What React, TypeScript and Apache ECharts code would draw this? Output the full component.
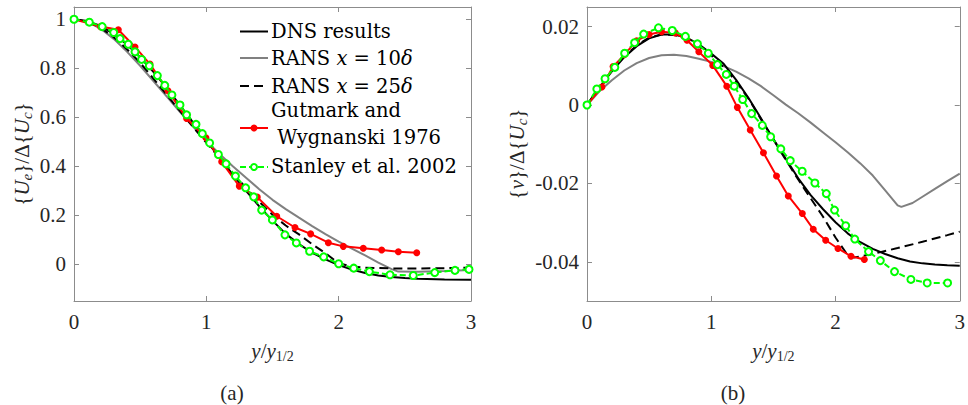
import React, { useEffect, useRef } from "react";
import * as echarts from "echarts";

const FONT = "Liberation Serif";
const FONT_LEG = "DejaVu Serif";

const xTicks = [0, 1, 2, 3];
const uTicks = [0, 0.2, 0.4, 0.6, 0.8, 1];
const vTicks = [-0.04, -0.02, 0, 0.02];

// Panel (a): mean streamwise velocity
const dnsU = [[0,1],[0.1,0.993],[0.2,0.973],[0.3,0.94],[0.4,0.897],[0.5,0.845],[0.6,0.785],[0.7,0.72],[0.8,0.65],[0.9,0.578],[1.0,0.505],[1.1,0.435],[1.2,0.366],[1.3,0.3],[1.4,0.236],[1.5,0.178],[1.6,0.124],[1.7,0.082],[1.8,0.047],[1.9,0.02],[2.0,-0.003],[2.1,-0.022],[2.2,-0.036],[2.3,-0.046],[2.4,-0.052],[2.5,-0.056],[2.6,-0.059],[2.8,-0.062],[3.0,-0.063]];
const rans10U = [[0,1],[0.1,0.99],[0.2,0.962],[0.3,0.92],[0.4,0.868],[0.5,0.81],[0.6,0.748],[0.7,0.685],[0.8,0.622],[0.9,0.562],[1.0,0.503],[1.1,0.45],[1.2,0.4],[1.3,0.353],[1.4,0.306],[1.5,0.263],[1.6,0.225],[1.7,0.19],[1.8,0.156],[1.9,0.123],[2.0,0.092],[2.1,0.064],[2.2,0.036],[2.3,0.007],[2.4,-0.02],[2.45,-0.03],[2.6,-0.031],[2.8,-0.028],[3.0,-0.023]];
const rans25U = [[0,1],[0.1,0.99],[0.2,0.966],[0.3,0.927],[0.4,0.878],[0.5,0.822],[0.6,0.758],[0.7,0.692],[0.8,0.626],[0.9,0.56],[1.0,0.496],[1.1,0.434],[1.2,0.372],[1.3,0.312],[1.4,0.255],[1.5,0.202],[1.6,0.158],[1.7,0.122],[1.8,0.082],[1.9,0.045],[2.0,0.004],[2.1,-0.009],[2.2,-0.014],[2.4,-0.017],[2.6,-0.017],[2.8,-0.016],[3.0,-0.014]];
const gutmarkU = [[0,1],[0.2,0.97],[0.335,0.957],[0.461,0.887],[0.574,0.817],[0.71,0.708],[0.851,0.595],[0.997,0.516],[1.116,0.418],[1.249,0.319],[1.385,0.274],[1.532,0.196],[1.67,0.15],[1.788,0.124],[1.922,0.088],[2.035,0.073],[2.186,0.065],[2.325,0.058],[2.451,0.051],[2.59,0.047]];
const stanleyU = [[0,1],[0.116,0.988],[0.213,0.97],[0.3,0.946],[0.348,0.921],[0.41,0.898],[0.461,0.867],[0.511,0.836],[0.569,0.81],[0.63,0.77],[0.686,0.73],[0.74,0.691],[0.801,0.65],[0.851,0.61],[0.922,0.571],[0.97,0.533],[1.025,0.495],[1.091,0.448],[1.149,0.41],[1.22,0.36],[1.297,0.312],[1.358,0.275],[1.418,0.221],[1.499,0.181],[1.594,0.12],[1.68,0.087],[1.78,0.053],[1.887,0.03],[2.0,0.002],[2.114,-0.016],[2.232,-0.03],[2.388,-0.043],[2.564,-0.046],[2.726,-0.034],[2.879,-0.025],[2.985,-0.021]];

// Panel (b): mean cross-stream velocity
const dnsV = [[0,0],[0.1,0.0045],[0.2,0.0086],[0.3,0.0122],[0.4,0.015],[0.5,0.017],[0.6,0.018],[0.7,0.018],[0.8,0.0172],[0.9,0.0155],[1.0,0.0131],[1.1,0.0105],[1.2,0.0064],[1.3,0.0018],[1.4,-0.0034],[1.5,-0.0087],[1.6,-0.0137],[1.7,-0.0187],[1.8,-0.023],[1.9,-0.0266],[2.0,-0.0299],[2.1,-0.0328],[2.2,-0.035],[2.3,-0.0367],[2.4,-0.038],[2.5,-0.0391],[2.6,-0.0399],[2.7,-0.0404],[2.8,-0.0407],[2.9,-0.0409],[3.0,-0.041]];
const rans10V = [[0,0],[0.1,0.0035],[0.2,0.0063],[0.3,0.0088],[0.4,0.0107],[0.5,0.012],[0.6,0.0127],[0.7,0.0128],[0.8,0.0125],[0.9,0.0118],[1.0,0.011],[1.1,0.0099],[1.2,0.0085],[1.3,0.0068],[1.4,0.0048],[1.5,0.0025],[1.6,0.0001],[1.7,-0.0021],[1.8,-0.0045],[1.9,-0.007],[2.0,-0.0095],[2.1,-0.0121],[2.2,-0.0149],[2.3,-0.018],[2.4,-0.0218],[2.5,-0.0256],[2.53,-0.026],[2.62,-0.025],[2.7,-0.0234],[2.8,-0.0214],[2.9,-0.0194],[3.0,-0.0175]];
const rans25V = [[0,0],[0.1,0.0046],[0.2,0.0088],[0.3,0.0124],[0.4,0.0152],[0.5,0.0172],[0.6,0.018],[0.7,0.0179],[0.8,0.0168],[0.9,0.015],[1.0,0.0126],[1.1,0.0097],[1.2,0.006],[1.3,0.0016],[1.4,-0.0036],[1.5,-0.0088],[1.6,-0.014],[1.7,-0.019],[1.8,-0.0238],[1.9,-0.0285],[2.0,-0.0338],[2.1,-0.0384],[2.15,-0.0389],[2.3,-0.038],[2.5,-0.0365],[2.7,-0.0349],[2.9,-0.0332],[3.0,-0.0323]];
const gutmarkV = [[0,0],[0.12,0.0046],[0.21,0.0098],[0.3,0.0128],[0.4,0.0164],[0.5,0.018],[0.6,0.0187],[0.71,0.0184],[0.805,0.0165],[0.9,0.0136],[1.012,0.0101],[1.125,0.0048],[1.21,-0.0006],[1.314,-0.0064],[1.42,-0.0122],[1.525,-0.0181],[1.62,-0.0232],[1.733,-0.0277],[1.821,-0.0317],[1.921,-0.0345],[2.02,-0.0366],[2.125,-0.0386],[2.232,-0.0394]];
const stanleyV = [[0,0],[0.079,0.0041],[0.145,0.0067],[0.224,0.0096],[0.303,0.0132],[0.383,0.0159],[0.456,0.0181],[0.575,0.0197],[0.686,0.019],[0.792,0.0175],[0.889,0.0156],[0.976,0.0132],[1.05,0.0103],[1.121,0.0078],[1.185,0.0048],[1.253,0.0014],[1.325,-0.0022],[1.411,-0.0052],[1.478,-0.0081],[1.56,-0.0112],[1.636,-0.0142],[1.732,-0.0169],[1.834,-0.0199],[1.926,-0.0226],[1.992,-0.0268],[2.082,-0.0308],[2.155,-0.0342],[2.266,-0.0374],[2.361,-0.0397],[2.475,-0.0425],[2.607,-0.0445],[2.738,-0.0454],[2.902,-0.0454]];

const AXIS = "#8c8c8c";
const LABEL = "#262626";
const RED = "#ff0000";
const GREEN = "#00ff00";
const GRAY = "#808080";

const rich = {
  i: { fontStyle: "italic", fontFamily: FONT, fontSize: 21, color: LABEL },
  s: { fontFamily: FONT, fontSize: 14, color: LABEL, padding: [10, 0, 0, 0] },
  si: { fontStyle: "italic", fontFamily: FONT, fontSize: 15, color: LABEL, padding: [10, 0, 0, 0] },
};

function xAxis(gridIndex: number, top: boolean) {
  return {
    type: "value",
    gridIndex,
    min: 0,
    max: 3,
    interval: 1,
    position: top ? "top" : "bottom",
    axisLine: { onZero: false, lineStyle: { color: AXIS, width: 1 } },
    axisTick: { inside: true, length: 5, lineStyle: { color: AXIS } },
    axisLabel: top
      ? { show: false }
      : { show: true, color: LABEL, fontFamily: FONT, fontSize: 21, margin: 10, formatter: (v: number) => (xTicks.includes(v) ? String(v) : "") },
    splitLine: { show: false },
    name: top ? "" : "{i|y}/{i|y}{s|1/2}",
    nameLocation: "middle",
    nameGap: 38,
    nameTextStyle: { fontFamily: FONT, fontSize: 21, color: LABEL, rich },
  };
}

function yAxis(gridIndex: number, right: boolean, min: number, max: number, ticks: number[], fmt: (v: number) => string, name: string, gap: number) {
  return {
    type: "value",
    gridIndex,
    min,
    max,
    position: right ? "right" : "left",
    axisLine: { onZero: false, lineStyle: { color: AXIS, width: 1 } },
    axisTick: { inside: true, length: 5, customValues: ticks, lineStyle: { color: AXIS } },
    axisLabel: right
      ? { show: false, customValues: ticks }
      : { show: true, customValues: ticks, color: LABEL, fontFamily: FONT, fontSize: 21, margin: 8, formatter: fmt },
    splitLine: { show: false },
    name: right ? "" : name,
    nameLocation: "middle",
    nameGap: gap,
    nameRotate: 90,
    nameTextStyle: { fontFamily: FONT, fontSize: 21, color: LABEL, rich },
  };
}

const fmtU = (v: number) => (v === 0 ? "0" : v === 1 ? "1" : v.toFixed(1));
const fmtV = (v: number) => (Math.abs(v) < 1e-9 ? "0" : v.toFixed(2));

function lineSeries(data: number[][], xi: number, yi: number, kind: string) {
  const base: any = { type: "line", xAxisIndex: xi, yAxisIndex: yi, data, animation: false, clip: true };
  if (kind === "dns") return { ...base, symbol: "none", lineStyle: { color: "#000", width: 2 }, z: 3 };
  if (kind === "r10") return { ...base, symbol: "none", lineStyle: { color: GRAY, width: 2 }, z: 2 };
  if (kind === "r25") return { ...base, symbol: "none", lineStyle: { color: "#000", width: 2, type: [9, 5] }, z: 4 };
  if (kind === "gut")
    return { ...base, symbol: "circle", symbolSize: 7, showAllSymbol: true, itemStyle: { color: RED }, lineStyle: { color: RED, width: 2 }, z: 5 };
  return {
    ...base,
    symbol: "emptyCircle",
    symbolSize: 7,
    showAllSymbol: true,
    itemStyle: { color: GREEN, borderColor: GREEN, borderWidth: 2 },
    lineStyle: { color: GREEN, width: 2, type: [6, 3] },
    z: 6,
  };
}

const LX1 = 240;
const LX2 = 268;
const LT = 271;
const legendText = (text: string, x: number, y: number) => ({
  type: "text",
  x,
  y,
  style: {
    text,
    fontFamily: FONT_LEG,
    fontSize: 19.5,
    fill: "#000",
    verticalAlign: "middle",
    rich: { i: { fontStyle: "italic", fontFamily: FONT_LEG, fontSize: 19.5, fill: "#000" } },
  },
  z: 100,
});
const legendLine = (y: number, color: string, dash?: number[]) => ({
  type: "line",
  shape: { x1: LX1, y1: y, x2: LX2, y2: y },
  style: { stroke: color, lineWidth: 2, lineDash: dash },
  z: 100,
});

const option: any = {
  animation: false,
  backgroundColor: "#fff",
  grid: [
    { left: 74, top: 7, width: 397, height: 294 },
    { left: 587, top: 7, width: 379, height: 294 },
  ],
  xAxis: [xAxis(0, false), xAxis(0, true), xAxis(1, false), xAxis(1, true)],
  yAxis: [
    yAxis(0, false, -0.15, 1.05, uTicks, fmtU, "{{i|U}{si|e}}/Δ{{i|U}{si|c}}", 40),
    yAxis(0, true, -0.15, 1.05, uTicks, fmtU, "", 0),
    yAxis(1, false, -0.05, 0.025, vTicks, fmtV, "{{i|v}}/Δ{{i|U}{si|c}}", 58),
    yAxis(1, true, -0.05, 0.025, vTicks, fmtV, "", 0),
  ],
  series: [
    lineSeries(rans10U, 0, 0, "r10"),
    lineSeries(dnsU, 0, 0, "dns"),
    lineSeries(rans25U, 0, 0, "r25"),
    lineSeries(gutmarkU, 0, 0, "gut"),
    lineSeries(stanleyU, 0, 0, "stan"),
    lineSeries(rans10V, 2, 2, "r10"),
    lineSeries(dnsV, 2, 2, "dns"),
    lineSeries(rans25V, 2, 2, "r25"),
    lineSeries(gutmarkV, 2, 2, "gut"),
    lineSeries(stanleyV, 2, 2, "stan"),
  ],
  graphic: [
    legendLine(31.5, "#000"),
    legendText("DNS results", LT, 31),
    legendLine(58, GRAY),
    legendText("RANS {i|x} = 10{i|δ}", LT, 58),
    legendLine(86, "#000", [9, 5]),
    legendText("RANS {i|x} = 25{i|δ}", LT, 86),
    legendText("Gutmark and", LT, 110),
    legendLine(128, RED),
    { type: "circle", shape: { cx: 254, cy: 128, r: 3.5 }, style: { fill: RED }, z: 101 },
    legendText(" Wygnanski 1976", LT, 137),
    legendLine(167, GREEN, [6, 3]),
    { type: "circle", shape: { cx: 254, cy: 167, r: 3 }, style: { fill: "#fff", stroke: GREEN, lineWidth: 2 }, z: 101 },
    legendText("Stanley et al. 2002", LT, 166),
    {
      type: "text",
      x: 232,
      y: 393,
      style: { text: "(a)", fontFamily: FONT, fontSize: 21, fill: LABEL, align: "center", verticalAlign: "middle" },
    },
    {
      type: "text",
      x: 733,
      y: 393,
      style: { text: "(b)", fontFamily: FONT, fontSize: 21, fill: LABEL, align: "center", verticalAlign: "middle" },
    },
  ],
};

export default function App() {
  const ref = useRef<HTMLDivElement>(null);
  useEffect(() => {
    const chart = echarts.init(ref.current!, null, { renderer: "svg" });
    chart.setOption(option);
    return () => chart.dispose();
  }, []);
  return (
    <div
      ref={ref}
      style={{ position: "fixed", left: 0, top: 0, width: 968, height: 405, background: "#fff" }}
    />
  );
}
